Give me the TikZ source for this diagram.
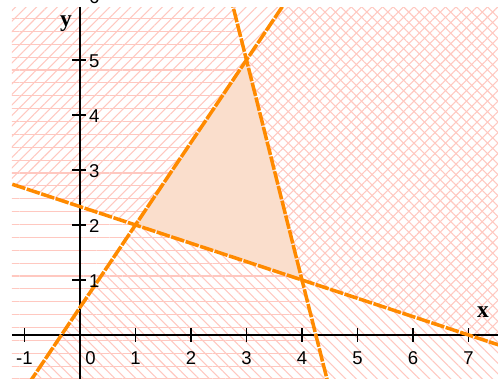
\documentclass[tikz,border=0pt]{standalone}
\usepackage{fontspec}
\setmainfont{Liberation Sans}
\newfontfamily\varfont{Liberation Serif}
\usetikzlibrary{patterns.meta}
\definecolor{hatch}{RGB}{255,200,192}
\definecolor{bound}{RGB}{255,138,0}
\definecolor{feasible}{RGB}{250,222,204}

\begin{document}
\begin{tikzpicture}[
    x=1cm, y=0.991cm,
    hstripe/.style={pattern={Lines[angle=0, distance=6.6pt, line width=0.55pt]}, pattern color=hatch},
    fstripe/.style={pattern={Lines[angle=45, distance=3.8pt, line width=0.55pt]}, pattern color=hatch},
    bstripe/.style={pattern={Lines[angle=-45, distance=3.8pt, line width=0.55pt]}, pattern color=hatch},
    boundary/.style={draw=bound, line width=1.8pt, dash pattern=on 7pt off 0.8pt},
    axis/.style={draw=black, line width=0.9pt},
    num/.style={font=\fontsize{9.5}{10}\selectfont, inner sep=0pt},
    var/.style={font=\varfont\bfseries\fontsize{12}{13}\selectfont, inner sep=0pt}
]

\useasboundingbox (-1.441,-0.8) rectangle (7.532,6.09);

% Plotting window
\coordinate (W1) at (-1.225,-0.8);
\coordinate (W2) at (7.532,5.96);

% Ends of the axes
\coordinate (Xmin) at (-1.225,0);
\coordinate (Xmax) at (7.532,0);
\coordinate (Ymin) at (0,-0.8);
\coordinate (Ymax) at (0,5.96);

% Ends of the three boundary lines
\coordinate (L1a) at (-2,3);
\coordinate (L1b) at (9,-0.667);
\coordinate (L2a) at (-2,-2.5);
\coordinate (L2b) at (5,8);
\coordinate (L3a) at (2.5,7);
\coordinate (L3b) at (4.75,-2);

% Corners of the feasible triangle
\coordinate (P1) at (1,2);
\coordinate (P2) at (3,5);
\coordinate (P3) at (4,1);

\begin{scope}
\clip (W1) rectangle (W2);

% Half-planes, each with its own hatching
\path[bstripe] (L2a) -- (L2b) -- (9,8) -- (9,-2.5) -- cycle;
\path[hstripe] (L3a) -- (L3b) -- (-2,-2) -- (-2,7) -- cycle;
\path[fstripe] (L1a) -- (L1b) -- (9,7) -- (-2,7) -- cycle;

% Feasible region
\fill[feasible] (P1) -- (P2) -- (P3) -- cycle;

% Axes
\draw[axis] (Xmin) -- (Xmax);
\draw[axis] (Ymin) -- (Ymax);

% Ticks on the x axis
\draw[axis] (-1,-0.12) -- (-1,0.12);
\draw[axis] (1,-0.12) -- (1,0.12);
\draw[axis] (2,-0.12) -- (2,0.12);
\draw[axis] (3,-0.12) -- (3,0.12);
\draw[axis] (4,-0.12) -- (4,0.12);
\draw[axis] (5,-0.12) -- (5,0.12);
\draw[axis] (6,-0.12) -- (6,0.12);
\draw[axis] (7,-0.12) -- (7,0.12);

% Ticks on the y axis
\draw[axis] (-0.14,1) -- (0.1,1);
\draw[axis] (-0.14,2) -- (0.1,2);
\draw[axis] (-0.14,3) -- (0.1,3);
\draw[axis] (-0.14,4) -- (0.1,4);
\draw[axis] (-0.14,5) -- (0.1,5);

% Boundary lines
\draw[boundary] (L1a) -- (L1b);
\draw[boundary] (L2a) -- (L2b);
\draw[boundary] (L3a) -- (L3b);
\end{scope}

% Numbers on the x axis
\node[num] (xm1) at (-1,-0.42) {-1};
\node[num] (x0) at (0.19,-0.42) {0};
\node[num] (x1) at (1,-0.42) {1};
\node[num] (x2) at (2,-0.42) {2};
\node[num] (x3) at (3,-0.42) {3};
\node[num] (x4) at (4,-0.42) {4};
\node[num] (x5) at (5,-0.42) {5};
\node[num] (x6) at (6,-0.42) {6};
\node[num] (x7) at (7,-0.42) {7};

% Numbers on the y axis
\node[num, anchor=west] (y1) at (0.16,0.98) {1};
\node[num, anchor=west] (y2) at (0.16,1.98) {2};
\node[num, anchor=west] (y3) at (0.16,2.98) {3};
\node[num, anchor=west] (y4) at (0.16,3.98) {4};
\node[num, anchor=west] (y5) at (0.16,4.98) {5};
\node[num, anchor=south west] (y6) at (0.16,6.02) {6};

% Axis names
\node[var] (xname) at (7.26,0.41) {x};
\node[var] (yname) at (-0.25,5.66) {y};

\end{tikzpicture}
\end{document}
